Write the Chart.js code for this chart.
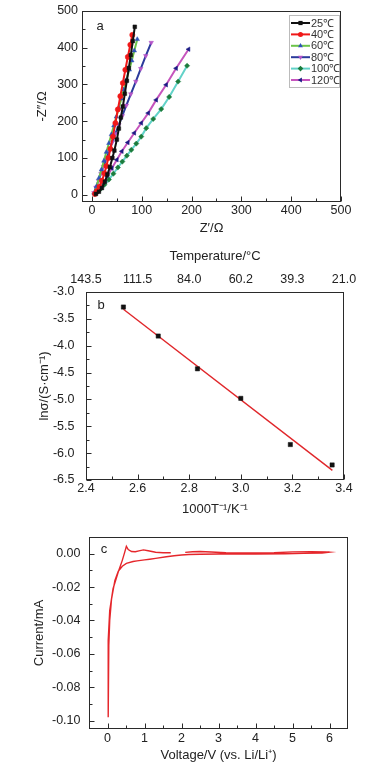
<!DOCTYPE html>
<html><head><meta charset="utf-8">
<script src="https://cdn.jsdelivr.net/npm/chart.js@4/dist/chart.umd.min.js"></script>
<style>
html,body{margin:0;padding:0;background:#fff;width:379px;height:769px;overflow:hidden}
.p{position:absolute;left:0}
canvas{display:block}
</style></head><body>
<div class="p" style="top:0"><canvas id="ca" width="379" height="240"></canvas></div>
<div class="p" style="top:240px"><canvas id="cb" width="379" height="280"></canvas></div>
<div class="p" style="top:520px"><canvas id="cc" width="379" height="249"></canvas></div>
<script>
// ---------- Panel a: Nyquist plots ----------
const seriesLabels = ['25℃','40℃','60℃','80℃','100℃','120℃'];
const zRe25 = [8,14,20,26,31,36,41,45,50,54,58,62,66,70,74,78,82,86];
const zIm25 = [2,8,18,35,55,75,100,120,150,180,210,240,275,310,345,380,418,457];
const zRe40 = [6,10,15,20,25,29,33,37,42,47,52,57,62,67,72,77,81];
const zIm40 = [2,10,22,38,58,78,100,125,158,195,232,268,304,340,375,408,435];
const zRe60 = [5,9,14,19,24,29,34,39,44,49,54,59,64,69,75,80,85,91];
const zIm60 = [3,22,45,68,92,116,140,164,188,212,236,261,286,312,340,365,392,423];
const zRe80 = [4,8,13,18,23,29,35,41,47,54,61,69,78,88,98,108,119];
const zIm80 = [5,20,38,57,76,98,120,143,166,190,215,243,274,308,343,378,414];
const zRe100 = [5,10,17,25,34,43,52,61,70,79,89,99,109,123,139,155,173,191];
const zIm100 = [2,7,15,27,41,57,74,90,106,122,139,158,181,206,233,266,308,351];
const zRe120 = [5,10,16,23,31,40,50,60,72,85,99,113,129,149,169,194];
const zIm120 = [2,8,18,32,50,72,95,118,142,168,195,222,258,299,344,396];
const aXTicks = [0,100,200,300,400,500];
const aXMinor = [50,150,250,350,450];
const aYTicks = [0,100,200,300,400,500];
const aYMinor = [50,150,250,350,450];

// ---------- Panel b: Arrhenius ----------
const invT = [2.545, 2.680, 2.832, 3.000, 3.192, 3.354];
const lnSigma = [-3.28, -3.82, -4.43, -4.98, -5.84, -6.22];
const fitInvT = [2.545, 3.355];
const fitLnSigma = [-3.32, -6.32];
const bXTicks = [2.4,2.6,2.8,3.0,3.2,3.4];
const bXMinor = [2.5,2.7,2.9,3.1,3.3];
const bYTicks = [-6.5,-6.0,-5.5,-5.0,-4.5,-4.0,-3.5,-3.0];
const bYMinor = [-6.25,-5.75,-5.25,-4.75,-4.25,-3.75,-3.25];
const tempTickLabels = ['143.5','111.5','84.0','60.2','39.3','21.0'];

// ---------- Panel c: CV ----------
const cvVoltage = [2.1,2.3,2.5,2.8,3.2,3.6,4.0,4.5,5.0,5.5,5.9,6.0,
  5.8,5.3,4.8,4.0,3.5,3.0,2.5,2.2,2.0,1.8,1.59,1.3,1.14,1.0,0.8,0.69,0.51,0.4,0.29,0.2,0.11,0.06,0.035,0.025,0.02,
  0.015,0.016,0.06,0.15,0.29,0.4,0.46,0.51,0.56,0.65,0.75,0.85,0.97,1.1,1.3,1.5,1.71];
const cvCurrent = [0.0008,0.0012,0.0013,0.0010,0.0006,0.0004,0.0004,0.0006,0.0011,0.0012,0.0011,0.0009,
  0.0004,0.0002,0.0,-0.0002,-0.0002,-0.0002,-0.0003,-0.0005,-0.0008,-0.0012,-0.0018,-0.0028,-0.0033,-0.0037,-0.0043,-0.0047,-0.0058,-0.0075,-0.0105,-0.016,-0.027,-0.040,-0.055,-0.075,-0.098,
  -0.080,-0.052,-0.034,-0.021,-0.011,-0.004,0.0005,0.0044,0.0025,0.0013,0.0012,0.0017,0.0023,0.0018,0.0009,0.0006,0.0006];
const cXTicks = [0,1,2,3,4,5,6];
const cXMinor = [0.5,1.5,2.5,3.5,4.5,5.5];
const cYTicks = [-0.10,-0.08,-0.06,-0.04,-0.02,0.00];
const cYMinor = [-0.09,-0.07,-0.05,-0.03,-0.01];

const FONT = '"Liberation Sans", Arial, sans-serif';
Chart.defaults.font.family = FONT;
Chart.defaults.color = '#222';
const tickFont = {family: FONT, size: 12.5, lineHeight: 1};
const titleFont = {family: FONT, size: 13, lineHeight: 1.2};

function drawMarker(ctx, style, rot, x, y, r, color) {
  ctx.save(); ctx.fillStyle = color; ctx.translate(x, y); ctx.rotate(rot * Math.PI / 180);
  ctx.beginPath();
  if (style === 'rect') ctx.rect(-r * 0.75, -r * 0.75, 1.5 * r, 1.5 * r);
  else if (style === 'circle') ctx.arc(0, 0, r * 0.9, 0, 2 * Math.PI);
  else if (style === 'triangle') { ctx.moveTo(0, -r); ctx.lineTo(r * 0.87, r * 0.5); ctx.lineTo(-r * 0.87, r * 0.5); ctx.closePath(); }
  else if (style === 'rectRot') { ctx.moveTo(0, -r); ctx.lineTo(r, 0); ctx.lineTo(0, r); ctx.lineTo(-r, 0); ctx.closePath(); }
  ctx.fill(); ctx.restore();
}

const frameTicks = {
  id: 'frameTicks',
  afterDatasetsDraw(chart, args, o) {
    const {ctx, chartArea: a} = chart;
    const L = Math.round(a.left) + 0.5, R = Math.round(a.right) - 0.5, T = Math.round(a.top) + 0.5, B = Math.round(a.bottom) - 0.5;
    const xs = chart.scales.x, ys = chart.scales.y;
    ctx.save();
    ctx.strokeStyle = '#2a2a2a'; ctx.lineWidth = 1;
    ctx.strokeRect(L, T, R - L, B - T);
    ctx.beginPath();
    const xt = (vals, len) => vals.forEach(v => { const p = Math.round(xs.getPixelForValue(v)) + 0.5; ctx.moveTo(p, B); ctx.lineTo(p, B - len); });
    const yt = (vals, len) => vals.forEach(v => { const p = Math.round(ys.getPixelForValue(v)) + 0.5; ctx.moveTo(L, p); ctx.lineTo(L + len, p); });
    xt(o.xMajor, 5); xt(o.xMinor, 3); yt(o.yMajor, 5); yt(o.yMinor, 3);
    ctx.stroke();
    ctx.fillStyle = '#222'; ctx.font = '13px ' + FONT; ctx.textAlign = 'center'; ctx.textBaseline = 'middle';
    ctx.fillText(o.label, o.labelX, o.labelY);
    if (o.legend) {
      const lg = o.legend;
      ctx.strokeStyle = '#bbb'; ctx.lineWidth = 1;
      ctx.strokeRect(lg.x + 0.5, lg.y + 0.5, lg.w, lg.h);
      ctx.font = '11px ' + FONT; ctx.textAlign = 'left';
      chart.data.datasets.forEach((ds, i) => {
        const yy = lg.y + 8 + i * 11.4;
        ctx.strokeStyle = ds.borderColor; ctx.lineWidth = 2;
        ctx.beginPath(); ctx.moveTo(lg.x + 2, yy); ctx.lineTo(lg.x + 21, yy); ctx.stroke();
        drawMarker(ctx, ds.pointStyle, ds.pointRotation || 0, lg.x + 11.5, yy, 2.8, ds.pointBackgroundColor);
        ctx.fillStyle = '#333';
        ctx.fillText(ds.label, lg.x + 22, yy + 0.5);
      });
    }
    ctx.restore();
  }
};

function xy(xa, ya) { return xa.map((v, i) => ({x: v, y: ya[i]})); }
function setTicks(arr) { return s => { s.ticks = arr.map(v => ({value: v})); }; }

// ---------- Chart a ----------
const aStyles = [
  {line: '#111111', mk: '#111111', ps: 'rect', rot: 0},
  {line: '#f01818', mk: '#f01818', ps: 'circle', rot: 0},
  {line: '#6cc44a', mk: '#2f52b8', ps: 'triangle', rot: 0},
  {line: '#2b3a9c', mk: '#b455c8', ps: 'triangle', rot: 180},
  {line: '#62d2c8', mk: '#1b7c3c', ps: 'rectRot', rot: 0},
  {line: '#c655bd', mk: '#1c1c84', ps: 'triangle', rot: -90}
];
const aRe = [zRe25, zRe40, zRe60, zRe80, zRe100, zRe120];
const aIm = [zIm25, zIm40, zIm60, zIm80, zIm100, zIm120];
new Chart(document.getElementById('ca'), {
  type: 'scatter',
  data: {datasets: seriesLabels.map((lab, i) => ({
    label: lab, data: xy(aRe[i], aIm[i]), showLine: true,
    borderColor: aStyles[i].line, borderWidth: 2,
    pointStyle: aStyles[i].ps, pointRotation: aStyles[i].rot,
    pointBackgroundColor: aStyles[i].mk, pointBorderColor: aStyles[i].mk,
    pointBorderWidth: 0.5, pointRadius: 2.6
  }))},
  options: {
    responsive: false, devicePixelRatio: 1, animation: false,
    layout: {padding: {left: 0, top: 11, right: 38, bottom: 0}},
    plugins: {legend: {display: false}, tooltip: {enabled: false},
      frameTicks: {xMajor: aXTicks, xMinor: aXMinor, yMajor: aYTicks, yMinor: aYMinor,
        label: 'a', labelX: 100, labelY: 26, legend: {x: 289, y: 15, w: 50, h: 72}}},
    scales: {
      x: {type: 'linear', min: -20, max: 500, afterBuildTicks: setTicks(aXTicks),
        afterFit: s => { s.height = 38; },
        grid: {display: false, drawTicks: false}, border: {display: false},
        ticks: {font: tickFont, padding: 2.5, maxRotation: 0, callback: v => String(v)},
        title: {display: true, text: 'Z′/Ω', font: titleFont, padding: {top: 0, bottom: 4.2}}},
      y: {type: 'linear', min: -20, max: 500, afterBuildTicks: setTicks(aYTicks),
        afterFit: s => { s.width = 82; },
        grid: {display: false, drawTicks: false}, border: {display: false},
        ticks: {font: tickFont, padding: 4, callback: v => String(v)},
        title: {display: true, text: '-Z″/Ω', font: titleFont, padding: {top: 35, bottom: 0}}}
    }
  },
  plugins: [frameTicks]
});

// ---------- Chart b ----------
new Chart(document.getElementById('cb'), {
  type: 'scatter',
  data: {datasets: [
    {label: 'data', data: xy(invT, lnSigma), pointStyle: 'rect', pointRadius: 3,
      pointBackgroundColor: '#111', pointBorderColor: '#111', pointBorderWidth: 0.5},
    {label: 'fit', data: xy(fitInvT, fitLnSigma), showLine: true, pointRadius: 0,
      borderColor: '#e0262a', borderWidth: 1.4}
  ]},
  options: {
    responsive: false, devicePixelRatio: 1, animation: false,
    layout: {padding: {left: 0, top: 0, right: 35, bottom: 0}},
    plugins: {legend: {display: false}, tooltip: {enabled: false},
      frameTicks: {xMajor: bXTicks, xMinor: bXMinor, yMajor: bYTicks, yMinor: bYMinor,
        label: 'b', labelX: 101, labelY: 65.5}},
    scales: {
      x: {type: 'linear', position: 'bottom', min: 2.4, max: 3.4, afterBuildTicks: setTicks(bXTicks),
        afterFit: s => { s.height = 40; },
        grid: {display: false, drawTicks: false}, border: {display: false},
        ticks: {font: tickFont, padding: 2, maxRotation: 0, callback: v => v.toFixed(1)},
        title: {display: true, text: '1000T⁻¹/K⁻¹', font: titleFont, padding: {top: 0, bottom: 3.2}}},
      x2: {type: 'linear', position: 'top', min: 2.4, max: 3.4, afterBuildTicks: setTicks(bXTicks),
        afterFit: s => { s.height = 52; },
        grid: {display: false, drawTicks: false}, border: {display: false},
        ticks: {font: tickFont, padding: 5.75, maxRotation: 0, callback: (v, i) => tempTickLabels[i]},
        title: {display: true, text: 'Temperature/°C', font: titleFont, padding: {top: 8.2, bottom: 0}}},
      y: {type: 'linear', min: -6.5, max: -3.0, afterBuildTicks: setTicks(bYTicks),
        afterFit: s => { s.width = 86; },
        grid: {display: false, drawTicks: false}, border: {display: false},
        ticks: {font: tickFont, padding: 11.5, callback: v => v.toFixed(1)},
        title: {display: true, text: 'lnσ/(S·cm⁻¹)', font: titleFont, padding: {top: 37, bottom: 0}}}
    }
  },
  plugins: [frameTicks]
});

// ---------- Chart c ----------
new Chart(document.getElementById('cc'), {
  type: 'scatter',
  data: {datasets: [
    {label: 'CV', data: xy(cvVoltage, cvCurrent), showLine: true, pointRadius: 0,
      borderColor: '#e5262b', borderWidth: 1.4}
  ]},
  options: {
    responsive: false, devicePixelRatio: 1, animation: false,
    layout: {padding: {left: 0, top: 17, right: 31, bottom: 0}},
    plugins: {legend: {display: false}, tooltip: {enabled: false},
      frameTicks: {xMajor: cXTicks, xMinor: cXMinor, yMajor: cYTicks, yMinor: cYMinor,
        label: 'c', labelX: 104, labelY: 29}},
    scales: {
      x: {type: 'linear', min: -0.5, max: 6.5, afterBuildTicks: setTicks(cXTicks),
        afterFit: s => { s.height = 40; },
        grid: {display: false, drawTicks: false}, border: {display: false},
        ticks: {font: tickFont, padding: 3, maxRotation: 0, callback: v => String(v)},
        title: {display: true, text: 'Voltage/V (vs. Li/Li⁺)', font: titleFont, padding: {top: 0, bottom: 6.2}}},
      y: {type: 'linear', min: -0.105, max: 0.01, afterBuildTicks: setTicks(cYTicks),
        afterFit: s => { s.width = 89; },
        grid: {display: false, drawTicks: false}, border: {display: false},
        ticks: {font: tickFont, padding: 8.5, callback: v => v.toFixed(2)},
        title: {display: true, text: 'Current/mA', font: titleFont, padding: {top: 32, bottom: 0}}}
    }
  },
  plugins: [frameTicks]
});
</script>
</body></html>
